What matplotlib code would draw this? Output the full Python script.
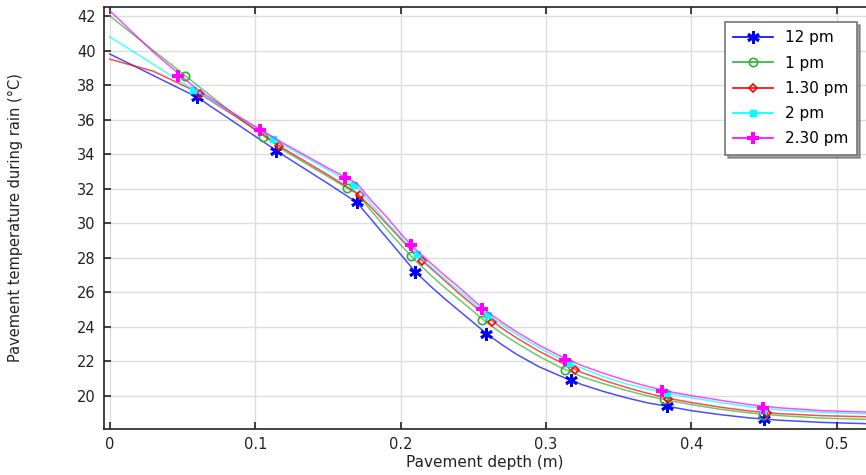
import matplotlib
matplotlib.use("Agg")
import matplotlib.pyplot as plt
from matplotlib.lines import Line2D

# depth grid used for the curves (m)
depth = [0, 0.03, 0.06, 0.09, 0.12, 0.15, 0.17, 0.18, 0.19, 0.2, 0.21,
         0.22, 0.23, 0.24, 0.25, 0.26, 0.27, 0.28, 0.295, 0.31, 0.325,
         0.34, 0.355, 0.37, 0.385, 0.40, 0.42, 0.44, 0.46, 0.49, 0.52]

t_12 = [39.8, 38.55, 37.3, 35.6, 33.9, 32.3, 31.2, 30.2, 29.2, 28.2, 27.2,
        26.4, 25.65, 24.95, 24.25, 23.55, 22.95, 22.4, 21.7, 21.15, 20.65,
        20.25, 19.9, 19.6, 19.38, 19.15, 18.92, 18.73, 18.6, 18.47, 18.4]
t_1 = [42.0, 40.0, 38.0, 36.0, 34.2, 32.7, 31.7, 30.7, 29.7, 28.75, 27.85,
       27.05, 26.3, 25.6, 24.9, 24.2, 23.6, 23.05, 22.3, 21.65, 21.1,
       20.7, 20.33, 20.0, 19.73, 19.5, 19.23, 19.02, 18.87, 18.72, 18.65]
t_130 = [39.5, 38.8, 37.6, 36.0, 34.3, 32.8, 31.75, 30.9, 30.0, 29.1, 28.2,
         27.45, 26.7, 25.95, 25.25, 24.55, 23.9, 23.35, 22.6, 21.95, 21.35,
         20.9, 20.5, 20.15, 19.85, 19.62, 19.35, 19.13, 18.98, 18.86, 18.8]
t_2 = [40.8, 39.2, 37.6, 36.1, 34.5, 33.1, 32.1, 31.1, 30.1, 29.2, 28.3,
       27.55, 26.8, 26.1, 25.4, 24.7, 24.1, 23.55, 22.8, 22.15, 21.6,
       21.1, 20.7, 20.4, 20.15, 19.9, 19.62, 19.38, 19.2, 19.05, 18.97]
t_230 = [42.3, 39.9, 37.75, 36.1, 34.6, 33.2, 32.3, 31.3, 30.4, 29.4, 28.5,
         27.75, 27.0, 26.3, 25.55, 24.85, 24.25, 23.7, 22.95, 22.3, 21.75,
         21.3, 20.9, 20.55, 20.25, 20.02, 19.75, 19.5, 19.32, 19.15, 19.07]

# marker positions
mx_12 = [0.06, 0.114, 0.17, 0.21, 0.259, 0.317, 0.383, 0.45]
my_12 = [37.3, 34.2, 31.25, 27.2, 23.6, 20.9, 19.4, 18.65]
mx_1 = [0.052, 0.105, 0.163, 0.207, 0.256, 0.313, 0.381, 0.449]
my_1 = [38.5, 35.0, 32.05, 28.1, 24.4, 21.5, 19.8, 18.9]
mx_130 = [0.062, 0.116, 0.172, 0.215, 0.263, 0.32, 0.384, 0.452]
my_130 = [37.5, 34.5, 31.65, 27.8, 24.3, 21.5, 19.85, 19.0]
mx_2 = [0.057, 0.112, 0.168, 0.211, 0.26, 0.316, 0.383, 0.449]
my_2 = [37.7, 34.9, 32.2, 28.2, 24.7, 21.9, 20.2, 19.2]
mx_230 = [0.047, 0.103, 0.162, 0.207, 0.256, 0.313, 0.38, 0.449]
my_230 = [38.5, 35.4, 32.6, 28.75, 25.05, 22.1, 20.3, 19.3]

labels = ["12 pm", "1 pm", "1.30 pm", "2 pm", "2.30 pm"]

series = [
    (t_12, mx_12, my_12, "#0000ff", dict(marker=(6, 2, 0), markersize=9, markeredgewidth=2)),
    (t_1, mx_1, my_1, "#2db52d", dict(marker="o", markersize=6, markerfacecolor="none", markeredgewidth=1.2)),
    (t_130, mx_130, my_130, "#ff0000", dict(marker="D", markersize=4.5, markerfacecolor="none", markeredgewidth=1.2)),
    (t_2, mx_2, my_2, "#00ffff", dict(marker="s", markersize=5)),
    (t_230, mx_230, my_230, "#ff00ff", dict(marker="P", markersize=8, markeredgewidth=0)),
]

fig = plt.figure(figsize=(8.66, 4.75), dpi=100)
ax = fig.add_axes([104 / 866, 1 - 429 / 475, 1 - 104 / 866, (429 - 7) / 475])

handles = []
for (ty, mx, my, col, mk), lab in zip(series, labels):
    ax.plot(depth, ty, color=col, lw=1.1, alpha=0.7)
    ax.plot(mx, my, linestyle="none", color=col, **mk)
    handles.append(Line2D([], [], color=col, lw=1.2, label=lab, **mk))

ax.set_xlim(-0.004, 0.52)
ax.set_ylim(18.09, 42.52)
ax.set_xticks([0, 0.1, 0.2, 0.3, 0.4, 0.5])
ax.set_xticklabels(["0", "0.1", "0.2", "0.3", "0.4", "0.5"])
ax.set_yticks(range(20, 43, 2))
ax.grid(True, color="#dddddd", lw=1)
ax.set_axisbelow(True)
ax.tick_params(direction="in", length=5, width=1.2, top=True, labelsize=10.5,
               colors="#222222")
ax.tick_params(axis="y", pad=6)
ax.tick_params(axis="x", pad=5.5)
ax.spines["right"].set_visible(False)
for s in ["left", "bottom", "top"]:
    ax.spines[s].set_linewidth(1.2)
    ax.spines[s].set_color("#222222")

ax.set_xlabel("Pavement depth (m)", fontsize=11, color="#222222")
ax.set_ylabel("Pavement temperature during rain (°C)", fontsize=10.5,
              color="#222222")
ax.xaxis.set_label_coords(0.5, -0.062)
ax.yaxis.set_label_coords(-0.106, 0.5)

leg = ax.legend(handles=handles, loc="upper right",
                bbox_to_anchor=((857 - 104) / 762, 1 - (22 - 7) / 422),
                borderaxespad=0, fontsize=11, frameon=True, fancybox=False,
                shadow=True, handlelength=2.6, handletextpad=0.8,
                labelspacing=0.67, borderpad=0.55, framealpha=1)
leg.get_frame().set_edgecolor("#777777")
leg.get_frame().set_linewidth(1.2)

fig.savefig("out.png", dpi=100)
